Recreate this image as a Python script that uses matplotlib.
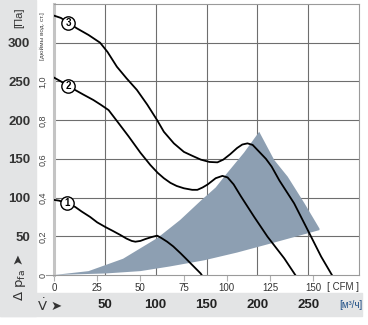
import matplotlib
matplotlib.use("Agg")
import matplotlib.pyplot as plt
from matplotlib.patches import Rectangle
from matplotlib.lines import Line2D
from matplotlib.transforms import blended_transform_factory

# ---- data (flow in CFM, static pressure in Pa) ----
curve1_cfm = [0, 3, 7.4, 12.2, 16, 20.9, 25, 29.7, 34, 38.4, 42, 45, 47.1, 50, 53, 56.5,
              59.7, 62, 65.5, 69, 73.3, 76, 80, 84.9, 85.5]
curve1_pa = [97, 96, 92.6, 88, 82, 75, 68, 62, 57, 51.7, 47, 44, 43, 44, 46.5, 49,
             50.8, 48, 43, 37, 28, 22, 13, 2, 0]

curve2_cfm = [0, 4, 8.3, 12.2, 17, 22.8, 27, 31.6, 36.4, 43.2, 50, 55.8, 60, 63.6, 67.4, 71,
              75.2, 80, 83, 86, 89, 93.6, 97.5, 100.5, 104, 108.1, 115.9, 123.6, 133.3, 139.7]
curve2_pa = [255, 250, 244, 239, 233, 226, 220, 213, 199, 179, 158, 142, 132, 125, 119, 115,
             112, 110, 110, 113, 117, 125, 128, 126, 117, 102, 75, 49.5, 21.5, 0]

curve3_cfm = [0, 4, 8.1, 13.2, 20, 26.7, 31, 36.4, 42, 48, 54, 59.7, 63.6, 69.4, 75.2, 80,
              85, 90, 94.6, 98, 102, 106, 109, 112, 115, 118, 122.7, 126, 130.5, 139,
              146.9, 154.7, 160.9]
curve3_pa = [335, 332, 326, 318.6, 310, 300, 288, 269, 254, 239, 220, 200, 185, 170, 159, 154,
             149, 146, 145.5, 149, 156, 164, 168.5, 170, 168, 161, 150, 140, 122, 92.6,
             58, 23.6, 0]

# operating range (shaded area)
range_lower_cfm = [0, 30, 50, 67, 87, 106, 126, 153.7]
range_lower_pa = [0, 2, 5, 11, 19, 29, 41, 58]
range_edge_cfm = [153.7, 145, 135.3, 127.5, 118.8]
range_edge_pa = [60, 92.6, 127, 148.5, 185]
range_upper_cfm = [118.8, 110, 100, 93.6, 85, 73, 60, 40, 20, 0]
range_upper_pa = [185, 158, 131, 113, 96, 71, 48, 21, 5, 0]

curve_labels = ["1", "2", "3"]
label_cfm = [7.4, 8.3, 8.1]
label_pa = [92.6, 244, 326]

pa_ticks = [50, 100, 150, 200, 250, 300]
inh2o_ticks = [0, 0.2, 0.4, 0.6, 0.8, 1.0]
inh2o_labels = ["0", "0,2", "0,4", "0,6", "0,8", "1,0"]
cfm_ticks = [0, 25, 50, 75, 100, 125, 150]
m3h_ticks = [50, 100, 150, 200, 250]

M3H_PER_CFM = 1.699
PA_PER_INH2O = 249.09

# ---- figure ----
W, H = 368, 325
fig = plt.figure(figsize=(W / 100, H / 100), dpi=100)
fig.patch.set_facecolor("white")


def fx(x):
    return x / W


def fy(y):
    return 1 - y / H


NARROW = ["Liberation Sans Narrow", "Liberation Sans", "DejaVu Sans"]
band = "#e3e4e5"
fig.add_artist(Rectangle((0, fy(316)), fx(36), fy(0) - fy(316),
                         transform=fig.transFigure, color=band, zorder=0))
fig.add_artist(Rectangle((0, fy(316)), fx(362), fy(293) - fy(316),
                         transform=fig.transFigure, color=band, zorder=0))

ax = fig.add_axes([fx(54), fy(275), fx(359) - fx(54), fy(4) - fy(275)])
ax.set_xlim(0, 300 / M3H_PER_CFM)
ax.set_ylim(0, 350)

for s in ["top", "right", "bottom"]:
    ax.spines[s].set_color("#9a9a9a")
    ax.spines[s].set_linewidth(0.8)
ax.spines["left"].set_color("#c4c4c4")
ax.spines["left"].set_linewidth(2.2)

# grid: pressure every 50 Pa, flow every 50 m³/h
ax.set_yticks(pa_ticks)
ax.set_yticklabels([str(v) for v in pa_ticks], fontsize=9.5, color="#333333",
                   family=NARROW, fontweight="bold")
ax.tick_params(axis="y", length=0, pad=17)
ax.set_xticks([v / M3H_PER_CFM for v in m3h_ticks], minor=True)
ax.set_xticks(cfm_ticks)
ax.set_xticklabels([str(v) for v in cfm_ticks], fontsize=7, color="#333333", family=NARROW)
ax.tick_params(axis="x", which="major", length=4, color="#b0b0b0", width=0.8, pad=1.5)
ax.tick_params(axis="x", which="minor", length=0)
ax.grid(axis="y", which="major", color="#6e6e6e", lw=0.8)
ax.grid(axis="x", which="minor", color="#6e6e6e", lw=0.8)
ax.grid(axis="x", which="major", visible=False)
ax.set_axisbelow(True)

# operating range
poly_x = range_lower_cfm + range_edge_cfm + range_upper_cfm
poly_y = range_lower_pa + range_edge_pa + range_upper_pa
ax.fill(poly_x, poly_y, color="#8d9fb2", lw=0, zorder=2)

# characteristic curves
for cx, cy in [(curve1_cfm, curve1_pa), (curve2_cfm, curve2_pa), (curve3_cfm, curve3_pa)]:
    ax.plot(cx, cy, color="black", lw=1.3, zorder=4, solid_joinstyle="round")
for lab, x, y in zip(curve_labels, label_cfm, label_pa):
    ax.plot(x, y, "o", ms=9.6, mfc="white", mec="black", mew=1.0, zorder=5)
    ax.text(x, y, lab, ha="center", va="center", fontsize=7, zorder=6,
            family=NARROW, fontweight="bold")

# inH2O scale inside the left margin
ty = blended_transform_factory(fig.transFigure, ax.transData)
for v, lab in zip(inh2o_ticks, inh2o_labels):
    ax.text(fx(43), v * PA_PER_INH2O, lab, transform=ty, rotation=90, ha="center",
            va="center", fontsize=6.5, color="#444444", family=NARROW)
fig.add_artist(Line2D([fx(46), fx(53)], [fy(275), fy(275)], transform=fig.transFigure,
                      color="#9a9a9a", lw=0.8))
fig.text(fx(42.5), fy(36), "[дюймы вод. ст.]", rotation=90, ha="center", va="center",
         fontsize=4.6, color="#444444", family=NARROW)

# unit and axis captions
fig.text(fx(19), fy(18), "[Па]", rotation=90, ha="center", va="center",
         fontsize=8, color="#333333", family=NARROW)
fig.text(fx(20), fy(277), r"$\Delta\ \mathrm{p_{fa}}$ ➤", rotation=90, ha="center",
         va="center", fontsize=9.5, color="#333333")
fig.text(fx(50), fy(305), r"$\dot{\mathrm{V}}$ ➤", ha="center", va="center",
         fontsize=9.5, color="#333333")

tx = blended_transform_factory(ax.transData, fig.transFigure)
for v in m3h_ticks:
    ax.text(v / M3H_PER_CFM, fy(305), str(v), transform=tx, ha="center", va="center",
            fontsize=9.5, color="#222222", family=NARROW, fontweight="bold")

fig.text(fx(359), fy(287), "[ CFM ]", ha="right", va="center", fontsize=7,
         color="#333333", family=NARROW)
fig.text(fx(362), fy(305), "[м³/ч]", ha="right", va="center", fontsize=7,
         color="#1f4f86", family=NARROW)

fig.savefig("out.png", dpi=100)
